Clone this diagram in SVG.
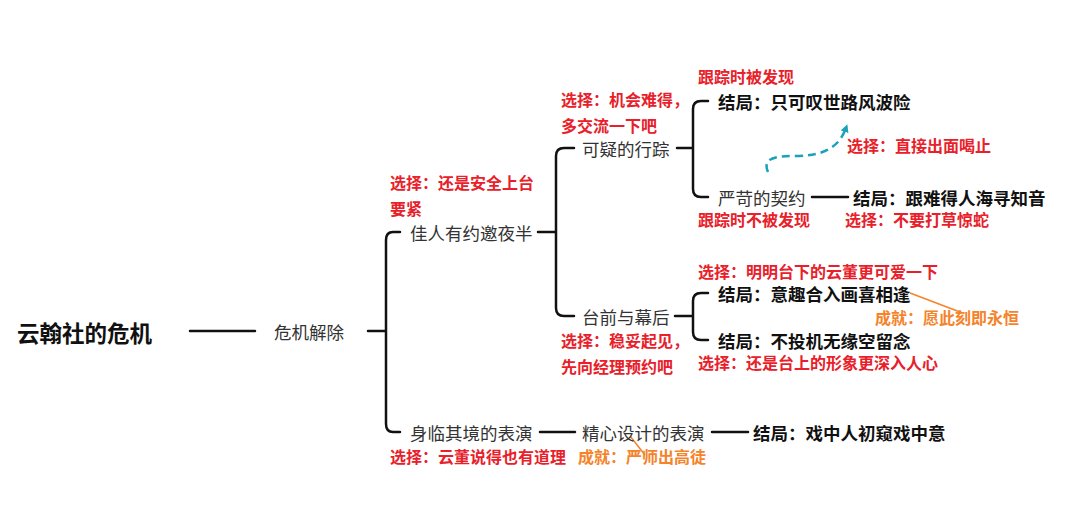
<svg xmlns="http://www.w3.org/2000/svg" width="1068" height="513" viewBox="0 0 1068 513">
<style>
text{font-family:"Noto Sans CJK SC","Noto Sans",sans-serif;dominant-baseline:central}
.n{font-size:17.5px;fill:#333}
.b{font-size:17.5px;font-weight:bold;fill:#111}
.r{font-size:16px;font-weight:bold;fill:#e8202a}
.o{font-size:16px;font-weight:bold;fill:#f5832a}
.l{fill:none;stroke:#111;stroke-width:2.5;stroke-linecap:round}
</style>
<defs><marker id="ah" markerWidth="8" markerHeight="8" refX="4" refY="4" orient="auto" markerUnits="userSpaceOnUse"><path d="M0,0L8,4L0,8z" fill="#1aa3b8"/></marker></defs>
<rect width="1068" height="513" fill="#fff"/>
<g id="connectors">
<path class="l" d="M190,331H255M368,331H385"/>
<path class="l" d="M400,232H393Q386,232 386,240V424Q386,432 393,432H400"/>
<path class="l" d="M538,232H556M574,148H564Q556,148 556,156V308Q556,316 564,316H574"/>
<path class="l" d="M677,148H693M708,101H701Q693,101 693,109V189Q693,197 701,197H708"/>
<path class="l" d="M812,197H848"/>
<path class="l" d="M675,316H693M708,293H701Q693,293 693,301V332Q693,340 701,340H708"/>
<path class="l" d="M540,432H575M712,432H748"/>
<path d="M768,172C762,158 775,156 795,156C820,156 838,150 846,128" fill="none" stroke="#1aa3b8" stroke-width="2.5" stroke-dasharray="8,5" marker-end="url(#ah)"/>
<path d="M910,293L960,312M630,436L645,455" stroke="#f5832a" stroke-width="1.5" fill="none"/>
</g>
<g id="root"><text x="17" y="332" style="font-size:22.5px;font-weight:bold;fill:#111">云翰社的危机</text></g>
<g id="n1"><text class="n" x="274" y="331">危机解除</text></g>
<g id="n2"><text class="n" x="410" y="232">佳人有约邀夜半</text><text class="r" x="390" y="182">选择：还是安全上台</text><text class="r" x="390" y="208">要紧</text></g>
<g id="n3"><text class="n" x="582" y="148">可疑的行踪</text><text class="r" x="561" y="99">选择：机会难得，</text><text class="r" x="561" y="125">多交流一下吧</text></g>
<g id="n4"><text class="b" x="718" y="101">结局：只可叹世路风波险</text><text class="r" x="698" y="76">跟踪时被发现</text></g>
<g id="n5"><text class="n" x="718" y="197">严苛的契约</text><text class="r" x="698" y="219">跟踪时不被发现</text><text class="r" x="847" y="145">选择：直接出面喝止</text></g>
<g id="n6"><text class="b" x="853" y="197">结局：跟难得人海寻知音</text><text class="r" x="845" y="219">选择：不要打草惊蛇</text></g>
<g id="n7"><text class="n" x="582" y="316">台前与幕后</text><text class="r" x="561" y="340">选择：稳妥起见，</text><text class="r" x="561" y="366">先向经理预约吧</text></g>
<g id="n8"><text class="b" x="718" y="293">结局：意趣合入画喜相逢</text><text class="r" x="698" y="271">选择：明明台下的云董更可爱一下</text><text class="o" x="875" y="317">成就：愿此刻即永恒</text></g>
<g id="n9"><text class="b" x="718" y="340">结局：不投机无缘空留念</text><text class="r" x="698" y="362">选择：还是台上的形象更深入人心</text></g>
<g id="n10"><text class="n" x="410" y="432">身临其境的表演</text><text class="r" x="390" y="456">选择：云董说得也有道理</text></g>
<g id="n11"><text class="n" x="582" y="432">精心设计的表演</text><text class="o" x="578" y="456">成就：严师出高徒</text></g>
<g id="n12"><text class="b" x="753" y="432">结局：戏中人初窥戏中意</text></g>
</svg>
